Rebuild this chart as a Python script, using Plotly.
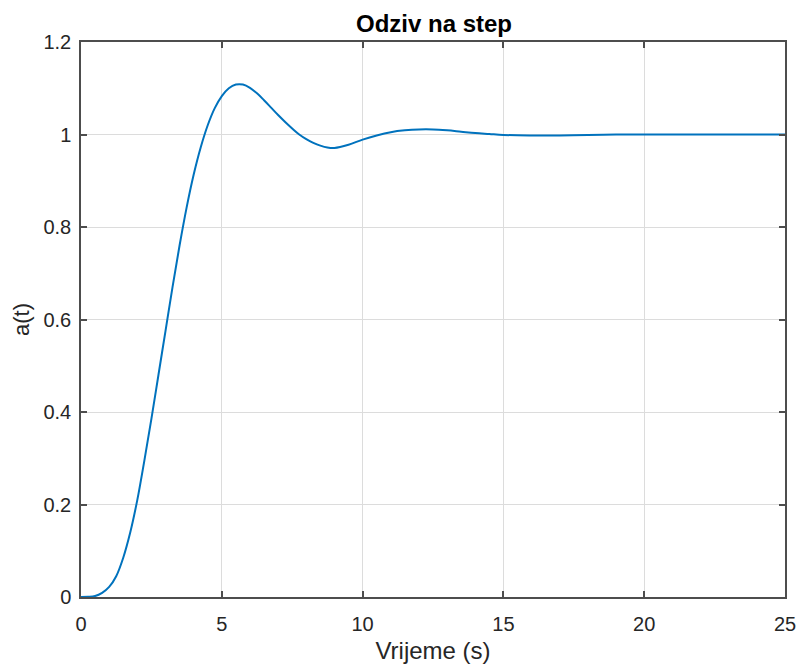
import plotly.graph_objects as go

# Step response samples
t_vals = [0, 0.25, 0.5, 0.75, 1.0, 1.25, 1.5, 1.75, 2.0, 2.25, 2.5, 2.75, 3.0, 3.25,
          3.5, 3.75, 4.0, 4.25, 4.5, 4.75, 5.0, 5.25, 5.5, 5.75, 6.0, 6.25, 6.5, 6.75,
          7.0, 7.25, 7.5, 7.75, 8.0, 8.25, 8.5, 8.75, 9.0, 9.5, 10.0, 10.5, 11.0, 11.5,
          12.0, 12.5, 13.0, 13.5, 14.0, 14.5, 15.0, 16.0, 17.0, 18.0, 19.0, 20.0, 22.0,
          25.0]
a_vals = [0, 0.0003, 0.002, 0.009, 0.022, 0.045, 0.085, 0.14, 0.21, 0.295, 0.385, 0.48,
          0.575, 0.67, 0.76, 0.842, 0.913, 0.972, 1.02, 1.057, 1.083, 1.1, 1.108, 1.108,
          1.101, 1.089, 1.074, 1.058, 1.042, 1.027, 1.013, 1.0, 0.99, 0.982, 0.976,
          0.972, 0.971, 0.978, 0.989, 0.998, 1.005, 1.009, 1.011, 1.011, 1.009, 1.006,
          1.003, 1.001, 0.999, 0.998, 0.998, 0.999, 1.0, 1.0, 1.0, 1.0]

x_ticks = [0, 5, 10, 15, 20, 25]
y_ticks = [0, 0.2, 0.4, 0.6, 0.8, 1, 1.2]
y_tick_text = ["0", "0.2", "0.4", "0.6", "0.8", "1", "1.2"]

title_text = "Odziv na step"
x_title = "Vrijeme (s)"
y_title = "a(t)"

axis_col = "#4d4d4d"
text_col = "#262626"
grid_col = "#dcdcdc"
font_fam = "Liberation Sans, Arial, sans-serif"

fig = go.Figure()
fig.add_trace(go.Scatter(
    x=t_vals, y=a_vals, mode="lines",
    line=dict(color="#0072BD", width=2, shape="spline", smoothing=1.0),
    showlegend=False, hoverinfo="x+y",
))

fig.update_layout(
    width=800, height=666,
    margin=dict(l=81, r=15, t=42, b=69),
    paper_bgcolor="white", plot_bgcolor="white",
    font=dict(family=font_fam, size=20, color=text_col),
    title=dict(text="<b>" + title_text + "</b>", x=434 / 800, xanchor="center",
               xref="container", y=1 - 24 / 666, yanchor="middle", yref="container",
               font=dict(family=font_fam, size=24, color="#000000")),
    xaxis=dict(
        range=[0, 25], tickvals=x_ticks, showgrid=True, gridcolor=grid_col, gridwidth=1,
        zeroline=False, showline=True, linecolor=axis_col, linewidth=1.5, mirror="ticks",
        ticks="inside", ticklen=6, tickcolor=axis_col, tickwidth=1.5, automargin=False,
        tickfont=dict(size=20, color=text_col), ticklabelstandoff=8,
        title=dict(text=x_title, font=dict(size=24, color=text_col), standoff=8),
    ),
    yaxis=dict(
        range=[0, 1.2], tickvals=y_ticks, ticktext=y_tick_text, showgrid=True,
        gridcolor=grid_col, gridwidth=1, automargin=False,
        zeroline=False, showline=True, linecolor=axis_col, linewidth=1.5, mirror="ticks",
        ticks="inside", ticklen=6, tickcolor=axis_col, tickwidth=1.5,
        tickfont=dict(size=20, color=text_col), ticklabelstandoff=4,
        title=dict(text=y_title, font=dict(size=22, color=text_col), standoff=8),
    ),
)

fig.write_html("out.html", config={"displayModeBar": False},
               post_script="document.body.style.margin='0';")
